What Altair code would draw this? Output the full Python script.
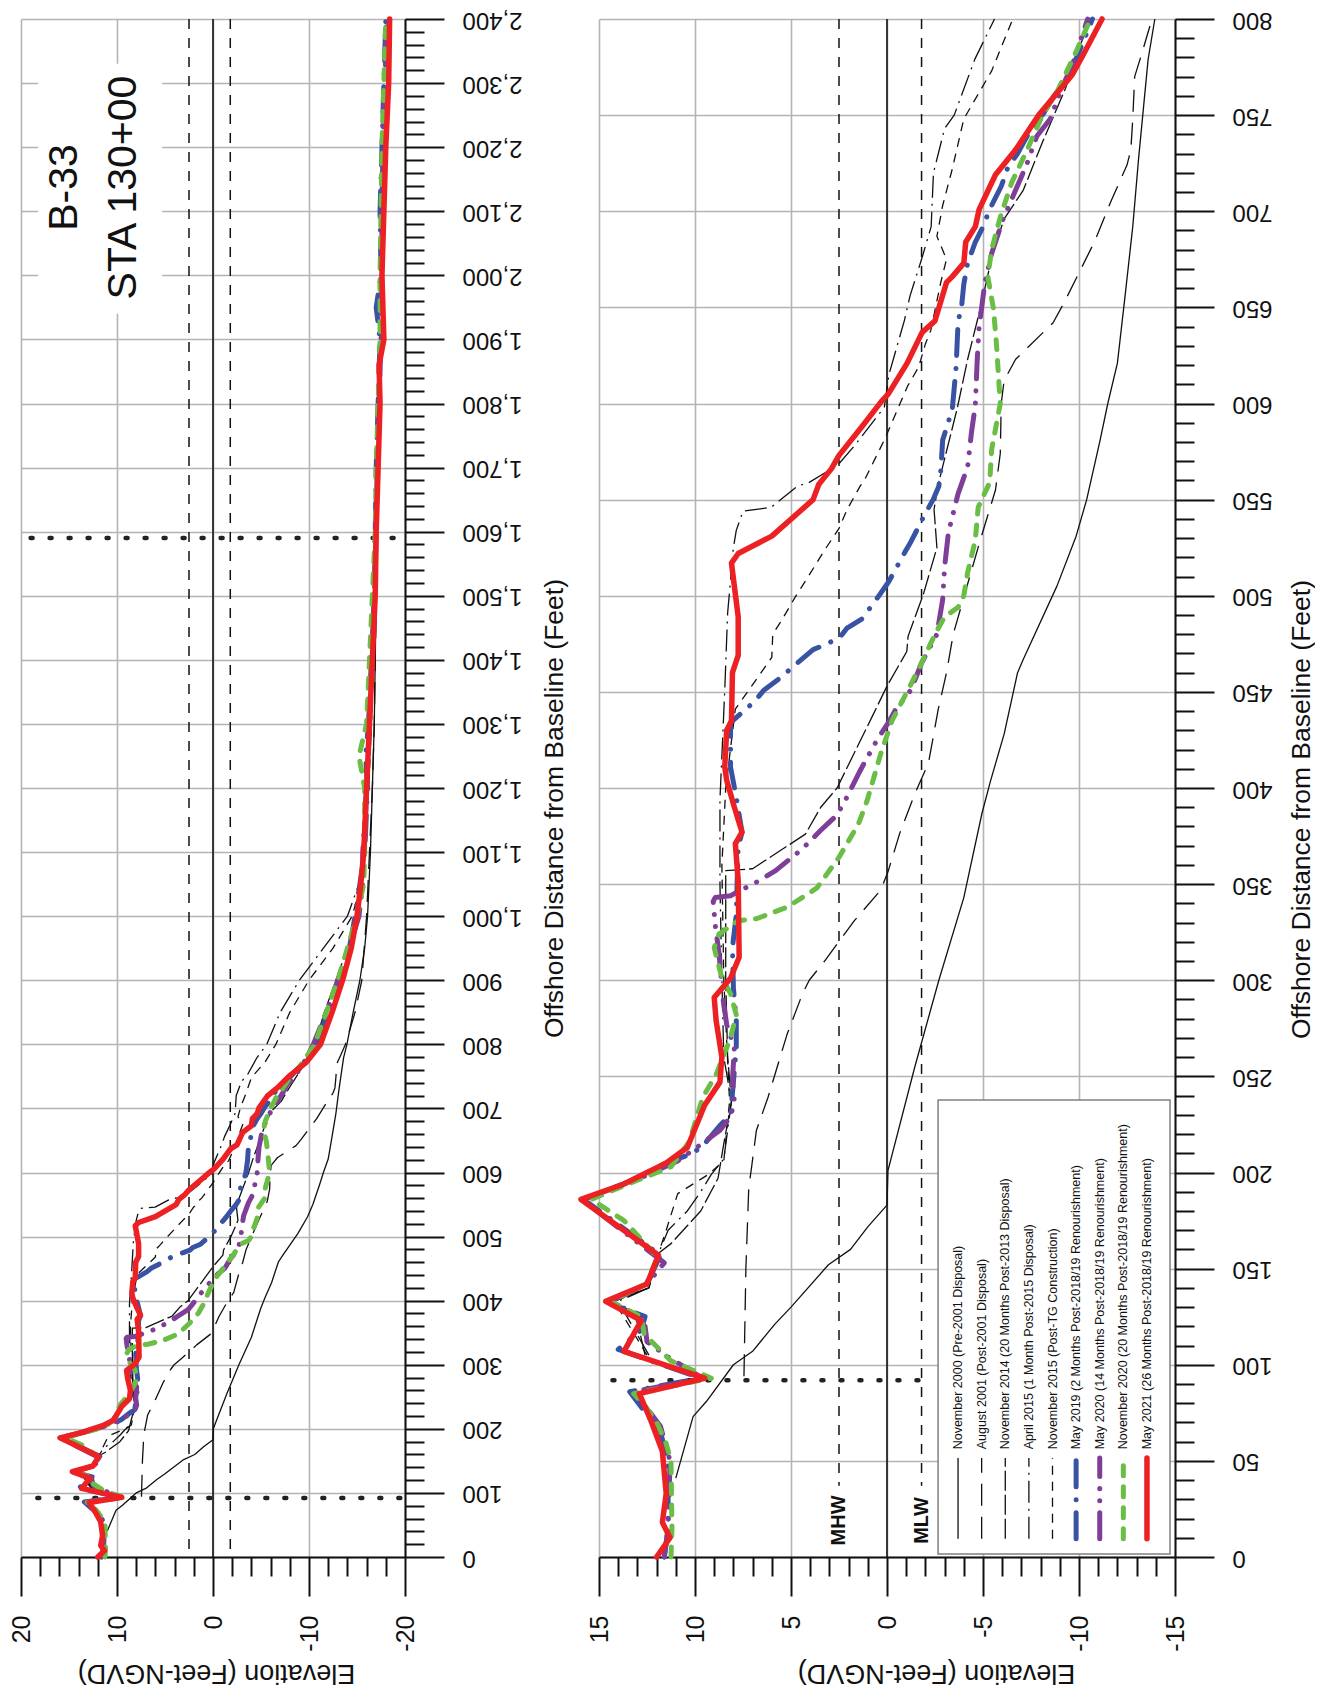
import altair as alt
import pandas as pd

# ---------------- beach profile surveys: offshore distance (ft) / elevation (ft NGVD) ----------------
nov2000_d = [41, 73, 81, 100, 107, 121, 130, 152, 160, 172, 183, 201, 255, 300, 343, 387, 404, 428, 460, 467,
             505, 531, 550, 581, 600, 621, 656, 692, 727, 753, 779, 800, 850, 900, 950, 1000, 1100, 1200, 1300, 1400,
             1500, 1600]
nov2000_e = [11.0, 10.1, 9.4, 8.0, 7.0, 5.85, 5.0, 3.05, 1.9, 0.98, 0.0, -0.05, -1.45, -2.7, -4.0, -4.95, -5.4, -6.1, -6.8, -7.1,
             -8.85, -9.85, -10.4, -11.1, -11.5, -12.0, -12.4, -12.8, -13.1, -13.35, -13.6, -13.95, -14.6, -15.3, -15.8, -16.1, -16.4, -16.6, -16.8, -16.9,
             -17.0, -17.0]

aug2001_d = [94, 150, 192, 203, 222, 239, 272, 293, 300, 310, 331, 347, 357, 376, 397, 413, 441, 460, 480, 527,
             555, 574, 600, 612, 623, 642, 652, 668, 684, 706, 724, 732, 748, 770, 783, 800, 850, 900, 1000, 1100,
             1200, 1300, 1400, 1500, 1600]
aug2001_e = [7.45, 7.35, 7.2, 7.05, 6.8, 6.2, 5.2, 4.4, 4.05, 3.25, 1.7, 0.32, -0.07, -0.65, -1.45, -2.16, -2.67, -3.1, -3.45, -4.8,
             -5.65, -5.9, -5.95, -6.1, -6.7, -8.65, -9.2, -10.0, -10.8, -11.7, -12.5, -12.7, -12.8, -12.9, -13.3, -13.8, -14.8, -15.5, -16.0, -16.3,
             -16.6, -16.8, -16.9, -17.0, -17.1]

nov2014_d = [105, 118, 125, 133, 140, 158, 163, 180, 197, 215, 237, 260, 300, 357, 358, 376, 390, 400, 437, 453,
             471, 479, 501, 525, 545, 558, 598, 623, 651, 678, 696, 711, 736, 764, 781, 800, 850, 900, 950, 1000,
             1100, 1200, 1300, 1400, 1500, 1600]
nov2014_e = [12.6, 12.9, 12.8, 14.3, 12.4, 11.9, 11.25, 9.7, 8.8, 8.5, 8.1, 8.3, 8.4, 8.4, 7.0, 4.25, 3.45, 2.6, 0.78, 0.0,
             -1.03, -1.1, -1.9, -2.6, -2.45, -2.67, -3.67, -4.2, -4.9, -5.5, -6.1, -7.1, -8.1, -9.3, -9.85, -10.6, -11.6, -12.8, -14.0, -15.0,
             -15.8, -16.1, -16.4, -16.7, -16.9, -17.0]

apr2015_d = [105, 133, 140, 158, 170, 180, 190, 199, 207, 237, 260, 300, 350, 394, 451, 491, 525, 534, 544, 546,
             557, 559, 568, 578, 598, 615, 643, 656, 675, 692, 720, 743, 750, 779, 800, 850, 900, 950, 1000, 1050,
             1100, 1200, 1300, 1400, 1500, 1600]
apr2015_e = [12.4, 14.0, 12.4, 11.9, 11.4, 10.4, 9.7, 9.15, 8.5, 8.1, 8.5, 8.6, 8.7, 8.7, 8.45, 8.3, 8.0, 7.85, 7.5, 6.03,
             4.66, 4.05, 2.56, 1.7, 0.14, -0.1, -0.9, -1.2, -1.8, -2.3, -2.42, -3.0, -3.5, -4.57, -5.6, -7.0, -9.0, -11.5, -14.0, -15.2,
             -15.8, -16.2, -16.5, -16.7, -16.9, -17.0]

nov2015_d = [105, 133, 140, 158, 170, 189, 199, 206, 237, 300, 360, 400, 441, 458, 468, 480, 487, 499, 510, 523,
             535, 545, 557, 560, 581, 593, 609, 619, 631, 638, 663, 675, 687, 703, 722, 748, 773, 800, 850, 900,
             950, 1000, 1050, 1100, 1200, 1300, 1400, 1500, 1600]
nov2015_e = [12.5, 14.2, 12.4, 11.9, 11.5, 10.9, 9.3, 8.5, 8.2, 8.5, 8.6, 8.4, 7.9, 6.7, 6.0, 5.95, 5.5, 4.8, 4.1, 3.3,
             2.5, 2.07, 1.4, 1.18, 0.14, -0.38, -1.07, -1.65, -2.0, -2.28, -2.8, -3.1, -2.6, -2.9, -3.4, -4.0, -5.45, -6.55, -8.0, -10.0,
             -12.5, -14.5, -15.4, -15.9, -16.2, -16.5, -16.7, -16.9, -17.0]

may2019_d = [0, 15, 50, 65, 78, 86, 93, 108, 118, 125, 133, 142, 157, 186, 195, 205, 210, 215, 225, 230,
             247, 265, 279, 296, 317, 334, 353, 369, 377, 395, 411, 434, 445, 451, 457, 472, 475, 479, 483, 488,
             500, 507, 514, 523, 528, 535, 541, 550, 557, 565, 581, 597, 619, 642, 652, 662, 673, 684, 692, 701,
             713, 723, 730, 741, 750, 760, 770, 784, 800, 850, 900, 950, 1000, 1050, 1100, 1200, 1250, 1300, 1400, 1500,
             1600, 1700, 1800, 1900, 1950, 2000, 2100, 2200, 2300, 2400]
may2019_e = [11.6, 11.4, 11.4, 11.8, 12.8, 13.4, 9.7, 14.0, 12.8, 12.6, 14.6, 12.5, 11.8, 15.8, 13.5, 11.5, 10.1, 9.5, 8.65, 8.15,
             8.0, 7.85, 7.85, 8.0, 8.05, 7.85, 7.8, 7.75, 7.55, 7.85, 8.15, 8.15, 6.9, 6.4, 5.6, 3.85, 3.1, 2.4, 2.1, 1.3,
             0.42, -0.07, -0.46, -0.95, -1.24, -1.6, -1.9, -2.4, -2.7, -2.8, -2.9, -3.4, -3.6, -3.7, -3.9, -4.0, -4.2, -4.6, -5.0, -5.35,
             -5.95, -6.3, -6.8, -7.4, -8.1, -8.7, -9.45, -10.05, -10.7, -12.0, -13.2, -14.2, -14.8, -15.3, -15.8, -16.1, -15.9, -16.2, -16.5, -16.8,
             -16.9, -17.0, -17.2, -17.4, -17.0, -17.5, -17.4, -17.6, -17.8, -18.0]

may2020_d = [0, 15, 50, 68, 80, 86, 93, 104, 112, 120, 133, 142, 153, 186, 195, 206, 216, 222, 229, 237,
             248, 265, 277, 291, 314, 329, 341, 343, 344, 351, 357, 368, 378, 386, 395, 409, 425, 434, 441, 451,
             465, 480, 498, 515, 533, 541, 553, 567, 585, 599, 623, 640, 663, 678, 696, 711, 725, 739, 748, 764,
             776, 800, 850, 900, 950, 1000, 1050, 1100, 1200, 1300, 1400, 1500, 1600, 1700, 1800, 1900, 2000, 2100, 2200, 2300,
             2400]
may2020_e = [11.6, 11.4, 11.3, 11.8, 12.7, 13.2, 9.6, 11.4, 12.5, 12.6, 14.4, 12.5, 11.6, 15.9, 13.3, 10.9, 9.5, 8.7, 8.15, 7.95,
             8.05, 7.95, 8.35, 8.55, 8.75, 8.95, 9.05, 8.95, 8.15, 6.8, 5.8, 4.45, 3.45, 2.6, 2.1, 1.4, 0.52, -0.07, -0.46, -1.25,
             -1.8, -2.6, -2.9, -3.0, -3.2, -3.4, -3.7, -4.2, -4.4, -4.6, -4.7, -4.8, -5.1, -5.45, -6.05, -6.7, -7.3, -7.8, -8.5, -9.1,
             -9.65, -10.45, -11.8, -13.0, -14.2, -15.2, -15.6, -15.6, -16.0, -16.3, -16.6, -16.8, -17.0, -17.1, -17.3, -17.5, -17.6, -17.6, -17.7, -17.9,
             -18.1]

nov2020_d = [0, 15, 50, 59, 69, 78, 85, 93, 102, 116, 125, 133, 142, 156, 175, 186, 194, 203, 216, 239,
             251, 270, 282, 293, 303, 317, 324, 331, 332, 338, 348, 364, 381, 393, 418, 435, 454, 465, 480, 489,
             494, 500, 512, 529, 546, 559, 576, 600, 631, 649, 666, 680, 697, 715, 732, 750, 763, 783, 800, 850,
             900, 950, 1000, 1050, 1100, 1200, 1250, 1300, 1400, 1500, 1600, 1700, 1800, 1900, 2000, 2100, 2200, 2300, 2400]
nov2020_e = [11.25, 11.2, 11.25, 11.5, 11.95, 12.55, 13.2, 9.15, 11.25, 12.65, 12.8, 14.4, 12.55, 11.95, 13.7, 15.4, 13.5, 11.25, 10.3, 9.6,
             8.9, 8.15, 7.85, 8.15, 8.65, 9.0, 8.75, 7.75, 6.8, 5.2, 3.65, 2.5, 1.5, 1.05, 0.32, -0.26, -1.25, -1.8, -2.5, -3.0,
             -3.7, -4.0, -4.2, -4.6, -4.75, -5.35, -5.45, -5.9, -5.7, -5.55, -5.25, -5.45, -5.9, -6.5, -7.3, -8.1, -8.9, -9.85, -10.6, -11.8,
             -13.0, -14.0, -15.0, -15.7, -15.8, -15.8, -15.2, -16.0, -16.3, -16.6, -16.9, -17.0, -17.2, -17.4, -17.4, -17.5, -17.6, -17.8, -18.0]

may2021_d = [0, 10, 18, 33, 55, 71, 85, 93, 107, 123, 133, 142, 157, 186, 194, 205, 213, 235, 247, 260,
             279, 291, 301, 312, 352, 371, 377, 390, 404, 411, 430, 435, 460, 469, 489, 517, 522, 531, 550, 558,
             566, 573, 588, 601, 605, 621, 637, 643, 663, 666, 673, 684, 692, 701, 719, 732, 750, 771, 781, 800,
             850, 900, 950, 1000, 1050, 1100, 1200, 1300, 1400, 1500, 1600, 1700, 1800, 1860, 1900, 2000, 2100, 2200, 2300, 2400]
may2021_e = [12.0, 11.3, 11.7, 11.5, 11.7, 12.3, 12.9, 9.5, 13.7, 12.8, 14.65, 12.5, 11.9, 15.94, 13.7, 11.5, 10.4, 9.5, 8.7, 8.6,
             8.9, 9.0, 8.15, 7.7, 7.75, 7.9, 7.55, 7.95, 8.35, 8.45, 8.35, 8.1, 8.05, 7.75, 7.75, 8.1, 7.75, 6.0, 3.85, 3.55,
             2.9, 2.5, 1.3, 0.3, -0.07, -1.05, -1.83, -2.5, -3.1, -3.4, -4.0, -4.1, -4.6, -4.8, -5.65, -6.7, -7.9, -9.65, -10.2, -11.2,
             -12.4, -13.5, -14.4, -15.0, -15.4, -15.7, -16.0, -16.3, -16.6, -16.9, -17.0, -17.2, -17.4, -17.3, -17.8, -17.6, -17.8, -18.0, -18.3, -18.4]

SERIES_NAMES = [
    "November 2000 (Pre-2001 Disposal)",
    "August 2001 (Post-2001 Disposal)",
    "November 2014 (20 Months Post-2013 Disposal)",
    "April 2015 (1 Month Post-2015 Disposal)",
    "November 2015 (Post-TG Construction)",
    "May 2019 (2 Months Post-2018/19 Renourishment)",
    "May 2020 (14 Months Post-2018/19 Renourishment)",
    "November 2020 (20 Months Post-2018/19 Renourishment)",
    "May 2021 (26 Months Post-2018/19 Renourishment)",
]
SERIES_D = [nov2000_d, aug2001_d, nov2014_d, apr2015_d, nov2015_d, may2019_d, may2020_d, nov2020_d, may2021_d]
SERIES_E = [nov2000_e, aug2001_e, nov2014_e, apr2015_e, nov2015_e, may2019_e, may2020_e, nov2020_e, may2021_e]

# ---------------- styles ----------------
COLORS = ["#111111"] * 5 + ["#3953a4", "#7f3f98", "#6abd45", "#ed2024"]
DASHES = [None, [22, 11], [20, 4], [22, 6, 2, 6], [9, 7],
          [26, 13, 0.1, 13], [26, 12, 0.1, 12, 0.1, 12], [10, 11], None]
WIDTHS = [1.3] * 5 + [5, 5, 5, 5.5]
CAPS = ["butt"] * 5 + ["round"] * 4

# reference levels / markers
MHW = 2.5
MLW = -1.8
STATION_LINES = ["B-33", "STA 130+00"]
DOTTED_LEFT_D = [92, 1590]
DOTTED_LEFT_E1 = [18.3, 19.0]
DOTTED_RIGHT_D = [92]
DOTTED_RIGHT_E1 = [14.3]

FONT = "Liberation Sans"
PLOT_H = 1538

rows = []
for k, (name, ds, es) in enumerate(zip(SERIES_NAMES, SERIES_D, SERIES_E)):
    assert len(ds) == len(es), name
    for i, (d, e) in enumerate(zip(ds, es)):
        rows.append({"s": name, "k": k, "i": i, "d": d, "e": e})
profiles = pd.DataFrame(rows)


def major(step, a, b):
    return {"condition": {"test": f"datum.value % {step} === 0", "value": a}, "value": b}


def make_x(lo, hi, step, mstep, title_x):
    lbl = (f"datum.value % {mstep} === 0 ? (datum.value < 0 ? '-' + (-datum.value) : '' + datum.value) : ''")
    return alt.X("e:Q", scale=alt.Scale(domain=[lo, hi], reverse=True, nice=False, zero=False),
                 axis=alt.Axis(values=list(range(lo, hi + 1, step)), labelExpr=lbl,
                               tickSize=major(mstep, 39, 19), gridOpacity=major(mstep, 1, 0),
                               labelAngle=270, labelAlign="right", labelBaseline="middle",
                               labelPadding=19, labelFontSize=25, labelOverlap=False, labelFlush=False,
                               title="Elevation (Feet-NGVD)", titleAngle=180, titleBaseline="bottom",
                               titleX=title_x, titleY=101, titleFontSize=27))


def make_y(hi, step, mstep, title_x, title_y):
    lbl = f"datum.value % {mstep} === 0 ? format(datum.value, ',') : ''"
    return alt.Y("d:Q", scale=alt.Scale(domain=[0, hi], nice=False, zero=False),
                 axis=alt.Axis(orient="right", values=list(range(0, hi + 1, step)), labelExpr=lbl,
                               tickSize=major(mstep, 39, 19), gridOpacity=major(mstep, 1, 0),
                               labelAngle=180, labelAlign="right", labelBaseline="middle",
                               labelPadding=18, labelFontSize=24, labelOverlap=False, labelFlush=False,
                               title="Offshore Distance from Baseline (Feet)", titleAngle=270, titleBaseline="top",
                               titleX=title_x, titleY=title_y, titleFontSize=26.5))


def series_layers(df, X, Y):
    out = []
    for k in range(len(SERIES_NAMES)):
        sub = df[df.k == k]
        kw = dict(color=COLORS[k], strokeWidth=WIDTHS[k], strokeCap=CAPS[k], strokeJoin="round")
        if DASHES[k] is not None:
            kw["strokeDash"] = DASHES[k]
        out.append(alt.Chart(sub).mark_line(**kw).encode(x=X, y=Y, order="i:Q"))
    return out


def ref_layers(X, Y):
    zero = alt.Chart(pd.DataFrame({"e": [0]})).mark_rule(color="#111111", strokeWidth=1.6).encode(x=X)
    tides = alt.Chart(pd.DataFrame({"e": [MHW, MLW]})).mark_rule(
        color="#111111", strokeWidth=1.5, strokeDash=[10, 9]).encode(x=X)
    return [zero, tides]


def dotted_layer(ds, e1s, e2, X, Y):
    df = pd.DataFrame({"d": ds, "e": e1s, "e2": [e2] * len(ds)})
    return alt.Chart(df).mark_rule(color="#222222", strokeWidth=4.5, strokeDash=[2, 17], strokeCap="round").encode(
        x=X, x2="e2:Q", y=Y)


# ---------------- left panel: full profile 0-2,400 ft ----------------
XL = make_x(-20, 20, 2, 10, 195)
YL = make_y(2400, 20, 100, 136, 789)

title_box = alt.Chart(pd.DataFrame({"e": [18.2], "e2": [5.3], "d": [1940], "d2": [2330]})).mark_rect(
    color="white").encode(x=XL, x2="e2:Q", y=YL, y2="d2:Q")
title_text = alt.Chart(pd.DataFrame({"e": [15.4, 9.3], "d": [2137, 2137], "t": STATION_LINES})).mark_text(
    angle=270, align="center", baseline="middle", fontSize=41, font=FONT, color="#111111").encode(
    x=XL, y=YL, text="t:N")

left = alt.layer(
    title_box, *ref_layers(XL, YL), dotted_layer(DOTTED_LEFT_D, DOTTED_LEFT_E1, -20, XL, YL),
    *series_layers(profiles, XL, YL), title_text
).properties(width=384, height=PLOT_H)

# ---------------- right panel: nearshore detail 0-800 ft ----------------
XR = make_x(-15, 15, 1, 5, 337)
YR = make_y(800, 10, 50, 113, 790)

near = profiles[profiles.d <= 800]

tide_lbl_box = alt.Chart(pd.DataFrame({"e": [MHW + 0.6, MLW + 0.6], "e2": [MHW - 0.6, MLW - 0.6],
                                       "d": [4, 4], "d2": [37, 37]})).mark_rect(color="white").encode(
    x=XR, x2="e2:Q", y=YR, y2="d2:Q")
tide_lbl = alt.Chart(pd.DataFrame({"e": [MHW, MLW], "d": [19, 19], "t": ["MHW", "MLW"]})).mark_text(
    angle=270, align="center", baseline="middle", fontSize=20, fontWeight="bold", font=FONT,
    color="#111111").encode(x=XR, y=YR, text="t:N")

legend_box = alt.Chart(pd.DataFrame({"e": [-2.66], "e2": [-14.74], "d": [1.6], "d2": [237.7]})).mark_rect(
    fill="white", stroke="#808080", strokeWidth=1.5).encode(x=XR, x2="e2:Q", y=YR, y2="d2:Q")

legend_e = [-3.7 - 1.23 * k for k in range(len(SERIES_NAMES))]
legend_samples = []
for k in range(len(SERIES_NAMES)):
    kw = dict(color=COLORS[k], strokeWidth=WIDTHS[k], strokeCap=CAPS[k])
    if DASHES[k] is not None:
        kw["strokeDash"] = DASHES[k]
    legend_samples.append(alt.Chart(pd.DataFrame({"e": [legend_e[k]], "d": [9.5], "d2": [51.5]})).mark_rule(
        **kw).encode(x=XR, y=YR, y2="d2:Q"))
legend_text = alt.Chart(pd.DataFrame({"e": legend_e, "d": [56] * len(legend_e), "t": SERIES_NAMES})).mark_text(
    angle=270, align="left", baseline="middle", fontSize=12.5, font=FONT, color="#111111").encode(
    x=XR, y=YR, text="t:N")

right = alt.layer(
    *ref_layers(XR, YR), tide_lbl_box, tide_lbl, dotted_layer(DOTTED_RIGHT_D, DOTTED_RIGHT_E1, MLW, XR, YR),
    *series_layers(near, XR, YR), legend_box, *legend_samples, legend_text
).properties(width=576, height=PLOT_H)

chart = alt.hconcat(left, right, spacing=10).properties(
    padding={"left": 1, "top": -2, "right": 0, "bottom": 4}
).configure_view(stroke=None).configure_axis(
    domainColor="#111111", domainWidth=2, tickColor="#111111", tickWidth=2,
    gridColor="#b4b4b8", gridWidth=1.6, labelColor="#111111", titleColor="#111111",
    labelFont=FONT, titleFont=FONT, titleFontWeight="normal"
)

chart.save("out.html", embed_options={"renderer": "svg", "actions": False})
